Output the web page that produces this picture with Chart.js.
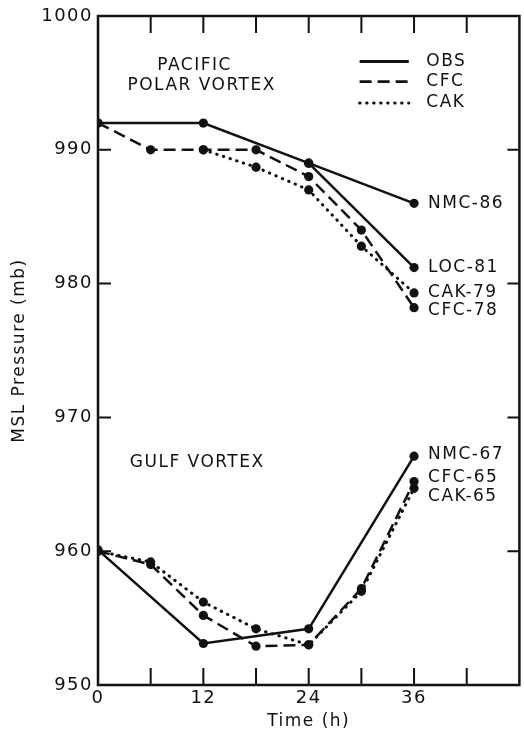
<!DOCTYPE html>
<html>
<head>
<meta charset="utf-8">
<script src="https://cdn.jsdelivr.net/npm/chart.js@4.4.0/dist/chart.umd.min.js"></script>
<style>
html,body{margin:0;padding:0;background:#fff;}
#wrap{width:524px;height:732px;}
</style>
</head>
<body>
<div id="wrap"><canvas id="c" width="524" height="732"></canvas></div>
<script>
// ---- data ----
const pacObsT = [0, 12, 24, 36];
const pacObs  = [992, 992, 989, 986];
const pacLocT = [24, 36];
const pacLoc  = [989, 981.2];
const pacCfcT = [0, 6, 12, 18, 24, 30, 36];
const pacCfc  = [992, 990, 990, 990, 988, 984, 978.2];
const pacCakT = [12, 18, 24, 30, 36];
const pacCak  = [990, 988.7, 987, 982.8, 979.3];

const gulfObsT = [0, 12, 24, 36];
const gulfObs  = [960.1, 953.1, 954.2, 967.1];
const gulfCfcT = [0, 6, 12, 18, 24, 30, 36];
const gulfCfc  = [960, 959, 955.2, 952.9, 953, 957.2, 965.2];
const gulfCakT = [0, 6, 12, 18, 24, 30, 36];
const gulfCak  = [960, 959.2, 956.2, 954.2, 953, 957, 964.7];

const xLabeled = [0, 12, 24, 36];
const yTickValues = [950, 960, 970, 980, 990, 1000];

const endLabels = [
  {text: 'NMC-86', x: 36, y: 986},
  {text: 'LOC-81', x: 36, y: 981.2},
  {text: 'CAK-79', x: 36, y: 979.3},
  {text: 'CFC-78', x: 36, y: 978.0},
  {text: 'NMC-67', x: 36, y: 967.2},
  {text: 'CFC-65', x: 36, y: 965.5},
  {text: 'CAK-65', x: 36, y: 964.1}
];
const regionLabels = [
  {text: 'PACIFIC', x: 11.0, y: 996.3},
  {text: 'POLAR VORTEX', x: 11.8, y: 994.8},
  {text: 'GULF VORTEX', x: 11.3, y: 966.6}
];
const legendNames = ['OBS', 'CFC', 'CAK'];
const legendY = [996.6, 995.1, 993.5];

// ---- styles ----
const INK = '#111';
const SOLID = [];
const DASH = [12, 6];
const DOT = [0.5, 6.5];
const fontFamily = '"DejaVu Sans", sans-serif';

function pts(t, v) { return t.map((x, i) => ({x: x, y: v[i]})); }
function ds(t, v, dash) {
  return {
    data: pts(t, v),
    borderColor: INK,
    backgroundColor: INK,
    borderWidth: dash === DOT ? 3 : 2.5,
    borderDash: dash,
    borderCapStyle: dash === DOT ? 'round' : 'butt',
    pointRadius: 4.6,
    pointBorderWidth: 0,
    pointBackgroundColor: INK,
    tension: 0,
    fill: false
  };
}

function spacing(chart) {
  try { chart.ctx.letterSpacing = '1.5px'; } catch (e) {}
}

const decor = {
  id: 'decor',
  beforeLayout(chart) { spacing(chart); },
  beforeDraw(chart) { spacing(chart); },
  afterDatasetsDraw(chart) {
    const {ctx, chartArea: a, scales: {x, y}} = chart;
    ctx.save();
    ctx.strokeStyle = INK;
    ctx.lineWidth = 2.5;
    ctx.setLineDash([]);
    ctx.strokeRect(a.left, a.top, a.right - a.left, a.bottom - a.top);
    // inner ticks
    ctx.lineWidth = 2;
    x.ticks.forEach(tk => {
      if (tk.value <= x.min || tk.value >= x.max) return;
      const px = x.getPixelForValue(tk.value);
      ctx.beginPath();
      ctx.moveTo(px, a.bottom); ctx.lineTo(px, a.bottom - 17);
      ctx.moveTo(px, a.top); ctx.lineTo(px, a.top + 17);
      ctx.stroke();
    });
    y.ticks.forEach(tk => {
      if (tk.value <= y.min || tk.value >= y.max) return;
      const py = y.getPixelForValue(tk.value);
      ctx.beginPath();
      ctx.moveTo(a.left, py); ctx.lineTo(a.left + 13, py);
      ctx.moveTo(a.right, py); ctx.lineTo(a.right - 12, py);
      ctx.stroke();
    });
    // text
    ctx.fillStyle = INK;
    ctx.font = '17px ' + fontFamily;
    ctx.textBaseline = 'middle';
    try { ctx.letterSpacing = '1.5px'; } catch (e) {}
    ctx.textAlign = 'center';
    regionLabels.forEach(l => {
      ctx.fillText(l.text, x.getPixelForValue(l.x), y.getPixelForValue(l.y));
    });
    ctx.textAlign = 'left';
    endLabels.forEach(l => {
      ctx.fillText(l.text, x.getPixelForValue(l.x) + 14, y.getPixelForValue(l.y));
    });
    // legend
    const dashes = [SOLID, DASH, DOT];
    const lx0 = x.getPixelForValue(29.8), lx1 = x.getPixelForValue(35.4);
    legendNames.forEach((n, i) => {
      const py = y.getPixelForValue(legendY[i]);
      ctx.beginPath();
      ctx.setLineDash(dashes[i]);
      ctx.lineCap = i === 2 ? 'round' : 'butt';
      ctx.lineWidth = i === 2 ? 3 : 2.8;
      ctx.moveTo(lx0, py); ctx.lineTo(lx1, py);
      ctx.stroke();
      ctx.fillText(n, x.getPixelForValue(37.4), py);
    });
    ctx.restore();
  }
};

new Chart(document.getElementById('c'), {
  type: 'line',
  data: {
    datasets: [
      ds(pacObsT, pacObs, SOLID),
      ds(pacLocT, pacLoc, SOLID),
      ds(pacCfcT, pacCfc, DASH),
      ds(pacCakT, pacCak, DOT),
      ds(gulfObsT, gulfObs, SOLID),
      ds(gulfCfcT, gulfCfc, DASH),
      ds(gulfCakT, gulfCak, DOT)
    ]
  },
  options: {
    responsive: false,
    animation: false,
    devicePixelRatio: 1,
    layout: {padding: {left: 0, right: 3, top: 16, bottom: 0}},
    plugins: {legend: {display: false}, tooltip: {enabled: false}},
    scales: {
      x: {
        type: 'linear', min: 0, max: 48,
        grid: {display: false, drawTicks: false},
        border: {display: false},
        afterFit(s) { s.height = 47; },
        ticks: {
          stepSize: 6, autoSkip: false, maxRotation: 0, padding: 3,
          color: INK, font: {family: fontFamily, size: 18},
          callback: v => xLabeled.includes(v) ? String(v) : ''
        },
        title: {display: true, text: 'Time (h)', color: INK,
          font: {family: fontFamily, size: 17}, padding: {top: 0, bottom: 0}}
      },
      y: {
        type: 'linear', min: 950, max: 1000,
        grid: {display: false, drawTicks: false},
        border: {display: false},
        afterFit(s) { s.width = 98; },
        afterBuildTicks(s) { s.ticks = yTickValues.map(v => ({value: v})); },
        ticks: {
          padding: 5, color: INK, font: {family: fontFamily, size: 18},
          callback: v => String(v)
        },
        title: {display: true, text: 'MSL Pressure (mb)', color: INK,
          font: {family: fontFamily, size: 17}, padding: {top: 9, bottom: 0}}
      }
    }
  },
  plugins: [decor]
});
</script>
</body>
</html>
